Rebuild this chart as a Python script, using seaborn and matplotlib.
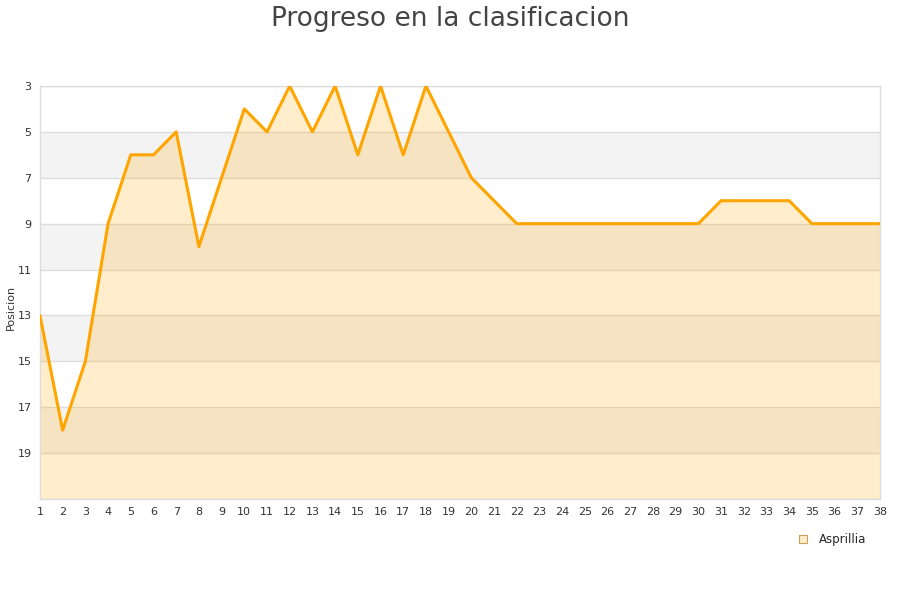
import matplotlib.pyplot as plt
import seaborn as sns
import pandas as pd
import numpy as np
from matplotlib.lines import Line2D

# =========================
# DATA
# =========================

jornadas = list(range(1, 39))

posiciones = [13, 18, 15, 9, 6, 6, 5, 10, 7, 4,
              5, 3, 5, 3, 6, 3, 6, 3, 5, 7,
              8, 9, 9, 9, 9, 9, 9, 9, 9, 9,
              8, 8, 8, 8, 9, 9, 9, 9]

y_ticks = [3, 5, 7, 9, 11, 13, 15, 17, 19]

equipo = "Asprillia"

df = pd.DataFrame({"Jornada": jornadas, "Posicion": posiciones})

# =========================
# PLOT
# =========================

sns.set_style("white")
plt.rcParams['font.family'] = ['DejaVu Sans']

fig = plt.figure(figsize=(9, 6), dpi=100)
ax = fig.add_axes([0.0444, 0.1683, 0.9334, 0.6884])

# alternating bands
for lo in [5, 9, 13, 17]:
    ax.axhspan(lo, lo + 2, color="#f3f3f3", zorder=0, lw=0)

for t in y_ticks + [21]:
    ax.axhline(t, color="#dddddd", lw=1, zorder=1)

ax.fill_between(df["Jornada"], df["Posicion"], 21,
                color="#ffa500", alpha=0.2, lw=0, zorder=2)

sns.lineplot(data=df, x="Jornada", y="Posicion", ax=ax,
             color="#ffa500", lw=2.2, zorder=3)

ax.set_xlim(1, 38)
ax.set_ylim(21, 3)
ax.set_xticks(jornadas)
ax.set_yticks(y_ticks)
ax.tick_params(axis="both", labelsize=8, colors="#333333", length=0, pad=6)
ax.set_xlabel("")
ax.set_ylabel("")
fig.text(0.012, 0.487, "Posicion", rotation=90, fontsize=8,
         color="#333333", ha="center", va="center")

for s in ax.spines.values():
    s.set_color("#dddddd")
    s.set_linewidth(1)

fig.suptitle("Progreso en la clasificacion", fontsize=19, color="#444444", y=0.99)

handle = Line2D([], [], marker="s", linestyle="none", markersize=6,
                markerfacecolor="#ffecc8", markeredgecolor="#c8a060", markeredgewidth=0.8)
fig.legend([handle], [equipo], loc="center", bbox_to_anchor=(0.921, 0.101),
           frameon=False, fontsize=8.5, handletextpad=0.4)

plt.savefig("out.png", dpi=100)
plt.close()
